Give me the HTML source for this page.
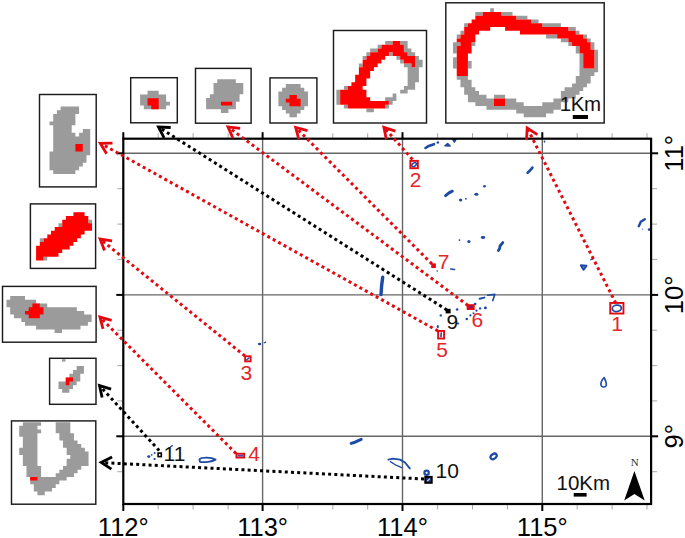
<!DOCTYPE html>
<html><head><meta charset="utf-8"><style>
html,body{margin:0;padding:0;background:#fff;}
svg{display:block;}
</style></head><body>
<svg width="685" height="538" viewBox="0 0 685 538">
<rect width="685" height="538" fill="#fff"/>
<g stroke="#666666" stroke-width="1.4" fill="none">
<line x1="262.6" y1="138.7" x2="262.6" y2="504.0"/>
<line x1="402.5" y1="138.7" x2="402.5" y2="504.0"/>
<line x1="542.3" y1="138.7" x2="542.3" y2="504.0"/>
<line x1="123.3" y1="153.3" x2="651.1" y2="153.3"/>
<line x1="123.3" y1="294.9" x2="651.1" y2="294.9"/>
<line x1="123.3" y1="436.3" x2="651.1" y2="436.3"/>
</g>
<g stroke="#a8a8a8" stroke-width="1" fill="none">
<line x1="158.2" y1="138.7" x2="158.2" y2="133.2"/>
<line x1="158.2" y1="504.0" x2="158.2" y2="509.5"/>
<line x1="193.1" y1="138.7" x2="193.1" y2="133.2"/>
<line x1="193.1" y1="504.0" x2="193.1" y2="509.5"/>
<line x1="228.1" y1="138.7" x2="228.1" y2="133.2"/>
<line x1="228.1" y1="504.0" x2="228.1" y2="509.5"/>
<line x1="297.9" y1="138.7" x2="297.9" y2="133.2"/>
<line x1="297.9" y1="504.0" x2="297.9" y2="509.5"/>
<line x1="332.8" y1="138.7" x2="332.8" y2="133.2"/>
<line x1="332.8" y1="504.0" x2="332.8" y2="509.5"/>
<line x1="367.7" y1="138.7" x2="367.7" y2="133.2"/>
<line x1="367.7" y1="504.0" x2="367.7" y2="509.5"/>
<line x1="437.6" y1="138.7" x2="437.6" y2="133.2"/>
<line x1="437.6" y1="504.0" x2="437.6" y2="509.5"/>
<line x1="472.5" y1="138.7" x2="472.5" y2="133.2"/>
<line x1="472.5" y1="504.0" x2="472.5" y2="509.5"/>
<line x1="507.4" y1="138.7" x2="507.4" y2="133.2"/>
<line x1="507.4" y1="504.0" x2="507.4" y2="509.5"/>
<line x1="577.2" y1="138.7" x2="577.2" y2="133.2"/>
<line x1="577.2" y1="504.0" x2="577.2" y2="509.5"/>
<line x1="612.1" y1="138.7" x2="612.1" y2="133.2"/>
<line x1="612.1" y1="504.0" x2="612.1" y2="509.5"/>
<line x1="647.0" y1="138.7" x2="647.0" y2="133.2"/>
<line x1="647.0" y1="504.0" x2="647.0" y2="509.5"/>
<line x1="123.3" y1="188.7" x2="117.3" y2="188.7"/>
<line x1="651.1" y1="188.7" x2="657.1" y2="188.7"/>
<line x1="123.3" y1="224.1" x2="117.3" y2="224.1"/>
<line x1="651.1" y1="224.1" x2="657.1" y2="224.1"/>
<line x1="123.3" y1="259.4" x2="117.3" y2="259.4"/>
<line x1="651.1" y1="259.4" x2="657.1" y2="259.4"/>
<line x1="123.3" y1="330.2" x2="117.3" y2="330.2"/>
<line x1="651.1" y1="330.2" x2="657.1" y2="330.2"/>
<line x1="123.3" y1="365.6" x2="117.3" y2="365.6"/>
<line x1="651.1" y1="365.6" x2="657.1" y2="365.6"/>
<line x1="123.3" y1="400.9" x2="117.3" y2="400.9"/>
<line x1="651.1" y1="400.9" x2="657.1" y2="400.9"/>
<line x1="123.3" y1="471.7" x2="117.3" y2="471.7"/>
<line x1="651.1" y1="471.7" x2="657.1" y2="471.7"/>
</g>
<g stroke="#1d4aa6" fill="none" stroke-linecap="round" stroke-linejoin="round">
<polyline points="425.5,148 428,146.3 434,144.2" stroke-width="2.6"/>
<polyline points="527.6,172.8 530,170.5 532.4,167.6" stroke-width="2.6"/>
<polyline points="445.6,195.6 449,192.8 452.3,191.2" stroke-width="3.0"/>
<polyline points="502.8,242.6 500,246 499.6,248.5 498.4,250.5" stroke-width="2.8"/>
<polyline points="382.7,277.2 381.6,286 381.0,294.6" stroke-width="3.4"/>
<polyline points="638.8,226.2 640.8,221.8 644.8,219.2" stroke-width="2.4"/>
<polyline points="590.8,259.6 593.4,258.8" stroke-width="1.4"/>
<polyline points="351.2,443.4 355,442.2 361.2,439.4" stroke-width="3.0"/>
<polyline points="388.3,459.6 393,458.6 400,459.6 405,462.5 409.8,468.4" stroke-width="1.9"/>
<polyline points="390.4,461.6 396,465.2 401.6,467.6" stroke-width="1.3"/>
<polyline points="479.6,298.8 484.4,297.6" stroke-width="2.0"/>
<polyline points="487.6,295.2 494.8,294.4 492.8,300.6" stroke-width="1.6"/>
<polyline points="264.3,342.8 265.7,342.1" stroke-width="1.2"/>
<polyline points="170.6,446.8 172.4,445.6" stroke-width="1.3"/>
<polyline points="450.6,268.9 454.6,269.6" stroke-width="1.5"/>
<ellipse cx="616.8" cy="308.3" rx="4.6" ry="3.2" transform="rotate(-8 616.8 308.3)" stroke-width="1.7"/>
<ellipse cx="414.1" cy="164.6" rx="2.6" ry="1.6" transform="rotate(-40 414.1 164.6)" stroke-width="1.5"/>
<ellipse cx="426.6" cy="472.7" rx="2.2" ry="2.1" transform="rotate(0 426.6 472.7)" stroke-width="2.2"/>
<ellipse cx="493.6" cy="456.4" rx="3.4" ry="2.3" transform="rotate(-35 493.6 456.4)" stroke-width="2.2"/>
<path d="M580.9,265.4 L586.4,265.9 L583.6,269.6 Z" stroke-width="2.1"/>
<path d="M199.4,459.4 C202,457 211,457.2 215.6,459.6 C212,461.6 204,462.8 200,461.8 Z" stroke-width="1.8"/>
<path d="M445,145.8 L447.6,143.6 L450,145.9 Z" stroke-width="1.6" fill="#1d4aa6"/>
<path d="M452.6,139.4 L456,139.4 L454.4,142.2 Z" stroke-width="1.4" fill="#1d4aa6"/>
<path d="M604.2,377.6 C601.6,380 600.6,383.5 601.2,385.6 C602,387.4 605.6,387.4 606.2,385.4 C606.8,383 605.4,380.4 604.2,377.6 Z" stroke-width="1.6"/>
</g>
<g fill="#1d4aa6">
<ellipse cx="437.8" cy="142.5" rx="1.3" ry="1.2"/>
<ellipse cx="649.2" cy="229.6" rx="1.4" ry="1.4"/>
<ellipse cx="642.5" cy="229" rx="0.6" ry="0.6"/>
<ellipse cx="460.6" cy="200.0" rx="1.7" ry="1.5"/>
<ellipse cx="465.9" cy="198.8" rx="0.9" ry="0.9"/>
<ellipse cx="476.3" cy="194.3" rx="2.0" ry="1.5"/>
<ellipse cx="484.5" cy="186.2" rx="1.4" ry="1.3"/>
<ellipse cx="459.5" cy="240.1" rx="0.9" ry="0.9"/>
<ellipse cx="468.9" cy="241.5" rx="1.6" ry="1.5"/>
<ellipse cx="483.0" cy="237.5" rx="2.3" ry="1.4"/>
<ellipse cx="457.1" cy="309.5" rx="1.3" ry="1.2"/>
<ellipse cx="440.8" cy="315.4" rx="1.2" ry="1.2"/>
<ellipse cx="437.8" cy="326.6" rx="1.1" ry="1.7"/>
<ellipse cx="466.8" cy="319.0" rx="1.3" ry="1.2"/>
<ellipse cx="470.4" cy="315.4" rx="1.1" ry="1.1"/>
<ellipse cx="473.5" cy="313.2" rx="1.0" ry="1.0"/>
<ellipse cx="476.5" cy="310.7" rx="1.1" ry="1.1"/>
<ellipse cx="480.1" cy="308.4" rx="1.2" ry="1.2"/>
<ellipse cx="485.4" cy="307.9" rx="1.5" ry="1.4"/>
<ellipse cx="475.1" cy="304.0" rx="1.4" ry="1.3"/>
<ellipse cx="458.0" cy="323.4" rx="1.2" ry="1.0"/>
<ellipse cx="148.8" cy="456.6" rx="1.6" ry="1.4"/>
<ellipse cx="151.7" cy="454.9" rx="0.9" ry="0.8"/>
<ellipse cx="154.6" cy="453.1" rx="1.0" ry="1.0"/>
<ellipse cx="154.6" cy="459.0" rx="1.2" ry="1.0"/>
<ellipse cx="437.2" cy="271.0" rx="0.8" ry="0.8"/>
<ellipse cx="544.5" cy="141.6" rx="0.9" ry="1.1"/>
<ellipse cx="259.6" cy="344.0" rx="1.7" ry="1.2"/>
</g>
<g stroke="#000" stroke-width="2" fill="none">
<line x1="123.3" y1="138.7" x2="123.3" y2="132.2"/>
<line x1="123.3" y1="504.0" x2="123.3" y2="511.0"/>
<line x1="262.6" y1="138.7" x2="262.6" y2="132.2"/>
<line x1="262.6" y1="504.0" x2="262.6" y2="511.0"/>
<line x1="402.5" y1="138.7" x2="402.5" y2="132.2"/>
<line x1="402.5" y1="504.0" x2="402.5" y2="511.0"/>
<line x1="542.3" y1="138.7" x2="542.3" y2="132.2"/>
<line x1="542.3" y1="504.0" x2="542.3" y2="511.0"/>
<line x1="123.3" y1="153.3" x2="116.3" y2="153.3"/>
<line x1="651.1" y1="153.3" x2="658.1" y2="153.3"/>
<line x1="123.3" y1="294.9" x2="116.3" y2="294.9"/>
<line x1="651.1" y1="294.9" x2="658.1" y2="294.9"/>
<line x1="123.3" y1="436.3" x2="116.3" y2="436.3"/>
<line x1="651.1" y1="436.3" x2="658.1" y2="436.3"/>
<rect x="123.3" y="138.7" width="527.8000000000001" height="365.3" stroke-width="2.2"/>
</g>
<g font-family="Liberation Sans, sans-serif" font-size="25.5" fill="#000" text-anchor="middle">
<text x="123.3" y="535.5">112°</text>
<text x="262.6" y="535.5">113°</text>
<text x="402.5" y="535.5">114°</text>
<text x="542.3" y="535.5">115°</text>
<text transform="translate(682.5,153.3) rotate(-90)" x="0" y="0">11°</text>
<text transform="translate(682.5,294.9) rotate(-90)" x="0" y="0">10°</text>
<text transform="translate(682.5,436.3) rotate(-90)" x="0" y="0">9°</text>
</g>
<path fill="#9b9b9b" d="M147.54 90.70h11.16v3.72h-11.16zM140.10 94.42h26.04v3.72h-26.04zM140.10 98.14h26.04v3.72h-26.04zM140.10 101.86h29.76v3.72h-29.76zM143.82 105.58h22.32v3.72h-22.32zM217.26 79.30h18.60v3.75h-18.60zM213.54 83.05h29.76v3.75h-29.76zM213.54 86.80h29.76v3.75h-29.76zM213.54 90.55h29.76v3.75h-29.76zM209.82 94.30h29.76v3.75h-29.76zM206.10 98.05h33.48v3.75h-33.48zM206.10 101.80h29.76v3.75h-29.76zM206.10 105.55h29.76v3.75h-29.76zM220.98 109.30h7.44v3.75h-7.44zM285.80 84.00h14.80v3.70h-14.80zM282.10 87.70h22.20v3.70h-22.20zM278.40 91.40h29.60v3.70h-29.60zM278.40 95.10h29.60v3.70h-29.60zM278.40 98.80h29.60v3.70h-29.60zM278.40 102.50h29.60v3.70h-29.60zM282.10 106.20h22.20v3.70h-22.20zM285.80 109.90h14.80v3.70h-14.80zM289.50 113.60h7.40v3.70h-7.40zM385.15 41.10h7.50v3.75h-7.50zM400.15 41.10h7.50v3.75h-7.50zM377.65 44.85h3.75v3.75h-3.75zM403.90 44.85h3.75v3.75h-3.75zM370.15 48.60h7.50v3.75h-7.50zM403.90 48.60h7.50v3.75h-7.50zM366.40 52.35h3.75v3.75h-3.75zM388.90 52.35h3.75v3.75h-3.75zM407.65 52.35h7.50v3.75h-7.50zM362.65 56.10h3.75v3.75h-3.75zM396.40 56.10h3.75v3.75h-3.75zM415.15 56.10h3.75v3.75h-3.75zM400.15 59.85h3.75v3.75h-3.75zM415.15 59.85h7.50v3.75h-7.50zM358.90 63.60h3.75v3.75h-3.75zM403.90 63.60h7.50v3.75h-7.50zM415.15 63.60h7.50v3.75h-7.50zM407.65 67.35h11.25v3.75h-11.25zM407.65 71.10h11.25v3.75h-11.25zM407.65 74.85h11.25v3.75h-11.25zM407.65 78.60h11.25v3.75h-11.25zM407.65 82.35h7.50v3.75h-7.50zM343.90 86.10h3.75v3.75h-3.75zM403.90 86.10h11.25v3.75h-11.25zM336.40 89.85h3.75v3.75h-3.75zM400.15 89.85h7.50v3.75h-7.50zM336.40 93.60h3.75v3.75h-3.75zM392.65 93.60h3.75v3.75h-3.75zM336.40 97.35h3.75v3.75h-3.75zM385.15 97.35h11.25v3.75h-11.25zM336.40 101.10h3.75v3.75h-3.75zM388.90 101.10h3.75v3.75h-3.75zM343.90 104.85h3.75v3.75h-3.75zM385.15 104.85h3.75v3.75h-3.75zM366.40 108.60h7.50v3.75h-7.50zM490.22 8.30h3.72v3.76h-3.72zM475.34 12.06h7.44v3.76h-7.44zM501.38 12.06h11.16v3.76h-11.16zM516.26 15.82h11.16v3.76h-11.16zM531.14 19.58h7.44v3.76h-7.44zM464.18 23.34h3.72v3.76h-3.72zM542.30 23.34h18.60v3.76h-18.60zM568.34 27.10h7.44v3.76h-7.44zM460.46 30.86h3.72v3.76h-3.72zM575.78 30.86h3.72v3.76h-3.72zM456.74 34.62h3.72v3.76h-3.72zM546.02 34.62h11.16v3.76h-11.16zM583.22 34.62h3.72v3.76h-3.72zM560.90 38.38h7.44v3.76h-7.44zM586.94 38.38h3.72v3.76h-3.72zM453.02 42.14h7.44v3.76h-7.44zM471.62 42.14h3.72v3.76h-3.72zM568.34 42.14h3.72v3.76h-3.72zM590.66 42.14h3.72v3.76h-3.72zM453.02 45.90h3.72v3.76h-3.72zM575.78 45.90h3.72v3.76h-3.72zM590.66 45.90h3.72v3.76h-3.72zM453.02 49.66h3.72v3.76h-3.72zM575.78 49.66h3.72v3.76h-3.72zM594.38 49.66h3.72v3.76h-3.72zM579.50 53.42h3.72v3.76h-3.72zM594.38 53.42h3.72v3.76h-3.72zM453.02 57.18h3.72v3.76h-3.72zM579.50 57.18h3.72v3.76h-3.72zM594.38 57.18h3.72v3.76h-3.72zM453.02 60.94h3.72v3.76h-3.72zM467.90 60.94h3.72v3.76h-3.72zM579.50 60.94h3.72v3.76h-3.72zM594.38 60.94h3.72v3.76h-3.72zM453.02 64.70h3.72v3.76h-3.72zM467.90 64.70h3.72v3.76h-3.72zM579.50 64.70h3.72v3.76h-3.72zM594.38 64.70h3.72v3.76h-3.72zM579.50 68.46h18.60v3.76h-18.60zM579.50 72.22h14.88v3.76h-14.88zM456.74 75.98h11.16v3.76h-11.16zM575.78 75.98h14.88v3.76h-14.88zM460.46 79.74h11.16v3.76h-11.16zM575.78 79.74h14.88v3.76h-14.88zM460.46 83.50h11.16v3.76h-11.16zM572.06 83.50h14.88v3.76h-14.88zM464.18 87.26h11.16v3.76h-11.16zM564.62 87.26h18.60v3.76h-18.60zM464.18 91.02h14.88v3.76h-14.88zM560.90 91.02h18.60v3.76h-18.60zM467.90 94.78h18.60v3.76h-18.60zM493.94 94.78h11.16v3.76h-11.16zM560.90 94.78h14.88v3.76h-14.88zM467.90 98.54h26.04v3.76h-26.04zM505.10 98.54h11.16v3.76h-11.16zM553.46 98.54h14.88v3.76h-14.88zM475.34 102.30h18.60v3.76h-18.60zM505.10 102.30h18.60v3.76h-18.60zM542.30 102.30h18.60v3.76h-18.60zM486.50 106.06h74.40v3.76h-74.40zM516.26 109.82h37.20v3.76h-37.20zM523.70 113.58h22.32v3.76h-22.32zM60.60 106.50h18.50v3.75h-18.50zM56.90 110.25h22.20v3.75h-22.20zM53.20 114.00h22.20v3.75h-22.20zM53.20 117.75h22.20v3.75h-22.20zM49.50 121.50h25.90v3.75h-25.90zM53.20 125.25h18.50v3.75h-18.50zM53.20 129.00h18.50v3.75h-18.50zM82.80 129.00h7.40v3.75h-7.40zM53.20 132.75h22.20v3.75h-22.20zM79.10 132.75h11.10v3.75h-11.10zM53.20 136.50h37.00v3.75h-37.00zM53.20 140.25h37.00v3.75h-37.00zM53.20 144.00h37.00v3.75h-37.00zM53.20 147.75h37.00v3.75h-37.00zM49.50 151.50h40.70v3.75h-40.70zM49.50 155.25h37.00v3.75h-37.00zM49.50 159.00h37.00v3.75h-37.00zM49.50 162.75h33.30v3.75h-33.30zM49.50 166.50h29.60v3.75h-29.60zM53.20 170.25h22.20v3.75h-22.20zM88.32 219.64h3.73v3.72h-3.73zM58.48 223.36h3.73v3.72h-3.73zM39.83 238.24h3.73v3.72h-3.73zM43.56 256.84h3.73v3.72h-3.73zM10.20 296.10h14.80v3.70h-14.80zM6.50 299.80h29.60v3.70h-29.60zM6.50 303.50h40.70v3.70h-40.70zM10.20 307.20h66.60v3.70h-66.60zM10.20 310.90h74.00v3.70h-74.00zM13.90 314.60h77.70v3.70h-77.70zM21.30 318.30h70.30v3.70h-70.30zM25.00 322.00h62.90v3.70h-62.90zM36.10 325.70h44.40v3.70h-44.40zM54.60 329.40h7.40v3.70h-7.40zM76.65 366.10h7.26v3.82h-7.26zM73.02 369.92h10.89v3.82h-10.89zM69.39 373.74h10.89v3.82h-10.89zM65.76 377.56h14.52v3.82h-14.52zM58.50 381.38h18.15v3.82h-18.15zM58.50 385.20h14.52v3.82h-14.52zM62.13 389.02h7.26v3.82h-7.26zM22.85 422.20h18.25v3.65h-18.25zM55.70 422.20h14.60v3.65h-14.60zM19.20 425.85h18.25v3.65h-18.25zM55.70 425.85h14.60v3.65h-14.60zM19.20 429.50h21.90v3.65h-21.90zM55.70 429.50h14.60v3.65h-14.60zM19.20 433.15h18.25v3.65h-18.25zM59.35 433.15h14.60v3.65h-14.60zM22.85 436.80h14.60v3.65h-14.60zM59.35 436.80h14.60v3.65h-14.60zM22.85 440.45h14.60v3.65h-14.60zM63.00 440.45h14.60v3.65h-14.60zM22.85 444.10h14.60v3.65h-14.60zM63.00 444.10h18.25v3.65h-18.25zM19.20 447.75h18.25v3.65h-18.25zM66.65 447.75h18.25v3.65h-18.25zM19.20 451.40h18.25v3.65h-18.25zM66.65 451.40h21.90v3.65h-21.90zM22.85 455.05h14.60v3.65h-14.60zM70.30 455.05h18.25v3.65h-18.25zM22.85 458.70h14.60v3.65h-14.60zM66.65 458.70h21.90v3.65h-21.90zM22.85 462.35h14.60v3.65h-14.60zM66.65 462.35h21.90v3.65h-21.90zM26.50 466.00h14.60v3.65h-14.60zM63.00 466.00h18.25v3.65h-18.25zM26.50 469.65h14.60v3.65h-14.60zM59.35 469.65h18.25v3.65h-18.25zM26.50 473.30h14.60v3.65h-14.60zM55.70 473.30h18.25v3.65h-18.25zM30.15 476.95h36.50v3.65h-36.50zM30.15 480.60h29.20v3.65h-29.20zM33.80 484.25h21.90v3.65h-21.90zM33.80 487.90h18.25v3.65h-18.25zM37.45 491.55h7.30v3.65h-7.30z"/>
<path fill="#ff0000" d="M147.54 98.14h11.16v3.72h-11.16zM147.54 101.86h11.16v3.72h-11.16zM151.26 105.58h7.44v3.72h-7.44zM220.98 101.80h11.16v3.75h-11.16zM289.50 95.10h7.40v3.70h-7.40zM285.80 98.80h14.80v3.70h-14.80zM289.50 102.50h11.10v3.70h-11.10zM392.65 41.10h7.50v3.75h-7.50zM381.40 44.85h22.50v3.75h-22.50zM377.65 48.60h26.25v3.75h-26.25zM370.15 52.35h18.75v3.75h-18.75zM392.65 52.35h15.00v3.75h-15.00zM366.40 56.10h18.75v3.75h-18.75zM400.15 56.10h15.00v3.75h-15.00zM362.65 59.85h18.75v3.75h-18.75zM403.90 59.85h11.25v3.75h-11.25zM362.65 63.60h15.00v3.75h-15.00zM411.40 63.60h3.75v3.75h-3.75zM358.90 67.35h15.00v3.75h-15.00zM358.90 71.10h11.25v3.75h-11.25zM355.15 74.85h15.00v3.75h-15.00zM355.15 78.60h11.25v3.75h-11.25zM351.40 82.35h15.00v3.75h-15.00zM347.65 86.10h15.00v3.75h-15.00zM340.15 89.85h26.25v3.75h-26.25zM340.15 93.60h26.25v3.75h-26.25zM340.15 97.35h30.00v3.75h-30.00zM340.15 101.10h48.75v3.75h-48.75zM347.65 104.85h37.50v3.75h-37.50zM482.78 12.06h18.60v3.76h-18.60zM475.34 15.82h40.92v3.76h-40.92zM471.62 19.58h59.52v3.76h-59.52zM467.90 23.34h74.40v3.76h-74.40zM464.18 27.10h26.04v3.76h-26.04zM505.10 27.10h63.24v3.76h-63.24zM464.18 30.86h14.88v3.76h-14.88zM519.98 30.86h55.80v3.76h-55.80zM460.46 34.62h14.88v3.76h-14.88zM557.18 34.62h26.04v3.76h-26.04zM456.74 38.38h18.60v3.76h-18.60zM568.34 38.38h18.60v3.76h-18.60zM460.46 42.14h11.16v3.76h-11.16zM572.06 42.14h18.60v3.76h-18.60zM456.74 45.90h14.88v3.76h-14.88zM579.50 45.90h11.16v3.76h-11.16zM456.74 49.66h14.88v3.76h-14.88zM579.50 49.66h14.88v3.76h-14.88zM456.74 53.42h11.16v3.76h-11.16zM583.22 53.42h11.16v3.76h-11.16zM456.74 57.18h11.16v3.76h-11.16zM583.22 57.18h11.16v3.76h-11.16zM456.74 60.94h11.16v3.76h-11.16zM583.22 60.94h11.16v3.76h-11.16zM456.74 64.70h11.16v3.76h-11.16zM583.22 64.70h11.16v3.76h-11.16zM456.74 68.46h11.16v3.76h-11.16zM456.74 72.22h11.16v3.76h-11.16zM493.94 98.54h11.16v3.76h-11.16zM493.94 102.30h11.16v3.76h-11.16zM75.40 144.00h7.40v3.75h-7.40zM75.40 147.75h7.40v3.75h-7.40zM73.40 212.20h11.19v3.72h-11.19zM65.94 215.92h22.38v3.72h-22.38zM62.21 219.64h26.11v3.72h-26.11zM62.21 223.36h29.84v3.72h-29.84zM54.75 227.08h37.30v3.72h-37.30zM51.02 230.80h33.57v3.72h-33.57zM47.29 234.52h33.57v3.72h-33.57zM43.56 238.24h33.57v3.72h-33.57zM39.83 241.96h33.57v3.72h-33.57zM36.10 245.68h33.57v3.72h-33.57zM36.10 249.40h26.11v3.72h-26.11zM36.10 253.12h22.38v3.72h-22.38zM36.10 256.84h7.46v3.72h-7.46zM32.40 303.50h7.40v3.70h-7.40zM28.70 307.20h14.80v3.70h-14.80zM25.00 310.90h18.50v3.70h-18.50zM28.70 314.60h11.10v3.70h-11.10zM65.76 377.56h7.26v3.82h-7.26zM65.76 381.38h3.63v3.82h-3.63zM30.15 476.95h7.30v3.65h-7.30z"/>
<g stroke="#1c1c1c" stroke-width="1.45" fill="none">
<rect x="130.7" y="77.7" width="46.6" height="45.1"/>
<rect x="195.5" y="68.4" width="55.6" height="54.8"/>
<rect x="270.0" y="77.9" width="46.9" height="45.1"/>
<rect x="333.5" y="30.5" width="93.0" height="92.5"/>
<rect x="445.8" y="2.8" width="158.4" height="120.2"/>
<rect x="39.5" y="94.5" width="56.7" height="92.4"/>
<rect x="30.4" y="203.9" width="65.2" height="64.5"/>
<rect x="2.5" y="286.4" width="93.6" height="55.8"/>
<rect x="49.6" y="358.3" width="46.4" height="46.0"/>
<rect x="11.5" y="420.9" width="84.3" height="83.3"/>
</g>
<rect x="62" y="359.2" width="3.5" height="2.4" fill="#9b9b9b"/>
<g fill="none" stroke="#e20a10" stroke-width="1.9">
<rect x="610.25" y="302.95" width="13.20" height="10.60"/>
<rect x="410.34999999999997" y="160.85" width="7.50" height="7.40"/>
<rect x="245.14999999999998" y="356.25" width="5.50" height="5.10"/>
<rect x="236.45" y="453.75" width="7.70" height="3.80"/>
<rect x="438.15" y="330.95" width="5.90" height="7.60"/>
</g>
<rect x="237.6" y="454.8" width="5.4" height="1.8" fill="#5a3fb0"/>
<path d="M440.9 337.4 L441.3 332.4" stroke="#1d4aa6" stroke-width="1.6"/>
<path d="M246.3 360.3 L249.5 357.5" stroke="#1d4aa6" stroke-width="1.4"/>
<rect x="466.7" y="304.2" width="8" height="5.8" fill="#e20a10"/>
<ellipse cx="471" cy="306.8" rx="1.3" ry="1.2" fill="#4a2a9a"/>
<rect x="431.2" y="263.4" width="4.7" height="4.6" fill="#e20a10"/>
<rect x="445.6" y="308.8" width="5" height="4.6" fill="#000"/>
<rect x="425.3" y="476.9" width="6.4" height="5.9" fill="#1e3c8c" stroke="#000" stroke-width="2"/>
<path d="M427.2 481.2 L430 478.6" stroke="#dfe6f5" stroke-width="1.1"/>
<rect x="158.1" y="453.1" width="3.2" height="3.5" fill="none" stroke="#000" stroke-width="1.6"/>
<line x1="615.8" y1="303.2" x2="528.2" y2="130.0" stroke="#e20a10" stroke-width="3" stroke-dasharray="3 3.2"/>
<polyline points="537.4,134.7 527.2,128.0 526.5,140.2" stroke="#e20a10" stroke-width="2.8" fill="none" stroke-linejoin="miter" stroke-miterlimit="10"/>
<line x1="412.5" y1="159.5" x2="385.3" y2="128.9" stroke="#e20a10" stroke-width="3" stroke-dasharray="3 3.2"/>
<polyline points="395.4,131.1 383.9,127.3 386.3,139.2" stroke="#e20a10" stroke-width="2.8" fill="none" stroke-linejoin="miter" stroke-miterlimit="10"/>
<line x1="432" y1="264" x2="297.2" y2="129.0" stroke="#e20a10" stroke-width="3" stroke-dasharray="3 3.2"/>
<polyline points="307.5,130.6 295.7,127.5 298.8,139.3" stroke="#e20a10" stroke-width="2.8" fill="none" stroke-linejoin="miter" stroke-miterlimit="10"/>
<line x1="468" y1="305.5" x2="229.8" y2="128.2" stroke="#e20a10" stroke-width="3" stroke-dasharray="3 3.2"/>
<polyline points="240.2,128.3 228.0,126.9 232.9,138.1" stroke="#e20a10" stroke-width="2.8" fill="none" stroke-linejoin="miter" stroke-miterlimit="10"/>
<line x1="447" y1="310" x2="160.3" y2="128.2" stroke="#000" stroke-width="3" stroke-dasharray="3 3.2"/>
<polyline points="170.7,127.5 158.5,127.0 164.1,137.8" stroke="#000" stroke-width="2.8" fill="none" stroke-linejoin="miter" stroke-miterlimit="10"/>
<line x1="438" y1="331" x2="102.3" y2="144.3" stroke="#e20a10" stroke-width="3" stroke-dasharray="3 3.2"/>
<polyline points="112.5,143.1 100.3,143.3 106.6,153.7" stroke="#e20a10" stroke-width="2.8" fill="none" stroke-linejoin="miter" stroke-miterlimit="10"/>
<line x1="245" y1="356" x2="101.8" y2="240.4" stroke="#e20a10" stroke-width="3" stroke-dasharray="3 3.2"/>
<polyline points="112.1,240.9 100.1,239.1 104.5,250.4" stroke="#e20a10" stroke-width="2.8" fill="none" stroke-linejoin="miter" stroke-miterlimit="10"/>
<line x1="236" y1="453.5" x2="101.4" y2="318.6" stroke="#e20a10" stroke-width="3" stroke-dasharray="3 3.2"/>
<polyline points="111.7,320.3 99.9,317.1 103.0,328.9" stroke="#e20a10" stroke-width="2.8" fill="none" stroke-linejoin="miter" stroke-miterlimit="10"/>
<line x1="159.2" y1="450.6" x2="101.0" y2="387.2" stroke="#000" stroke-width="3" stroke-dasharray="3 3.2"/>
<polyline points="111.1,389.2 99.5,385.6 102.1,397.5" stroke="#000" stroke-width="2.8" fill="none" stroke-linejoin="miter" stroke-miterlimit="10"/>
<line x1="424" y1="479" x2="103.4" y2="462.7" stroke="#000" stroke-width="3" stroke-dasharray="3 3.2"/>
<polyline points="112.1,457.0 101.2,462.5 111.4,469.2" stroke="#000" stroke-width="2.8" fill="none" stroke-linejoin="miter" stroke-miterlimit="10"/>
<g font-family="Liberation Sans, sans-serif" font-size="21" text-anchor="middle">
<text x="617.0" y="331.0" fill="#e3262b">1</text>
<text x="415.5" y="187.2" fill="#e3262b">2</text>
<text x="246.4" y="379.6" fill="#e3262b">3</text>
<text x="254.0" y="460.7" fill="#e3262b">4</text>
<text x="442.0" y="356.8" fill="#e3262b">5</text>
<text x="477.4" y="327.2" fill="#e3262b">6</text>
<text x="443.5" y="269.2" fill="#e3262b">7</text>
<text x="452.4" y="329.4" fill="#111">9</text>
<text x="447.2" y="477.7" fill="#111">10</text>
<text x="174.5" y="461.4" fill="#111">11</text>
</g>
<text x="580.2" y="111.4" font-family="Liberation Sans, sans-serif" font-size="20.5" letter-spacing="-0.5" text-anchor="middle" fill="#111">1Km</text>
<rect x="572.8" y="115" width="15.2" height="4" fill="#000"/>
<text x="583.3" y="489.6" font-family="Liberation Sans, sans-serif" font-size="20.5" text-anchor="middle" fill="#111">10Km</text>
<rect x="573.7" y="493" width="12.9" height="3.6" fill="#000"/>
<text x="634.7" y="465.9" font-family="Liberation Serif, serif" font-size="11" text-anchor="middle" fill="#333">N</text>
<path d="M634.4 471 L644.7 500.6 L634.4 494 L624.2 500.6 Z" fill="#000"/>
</svg>
</body></html>
